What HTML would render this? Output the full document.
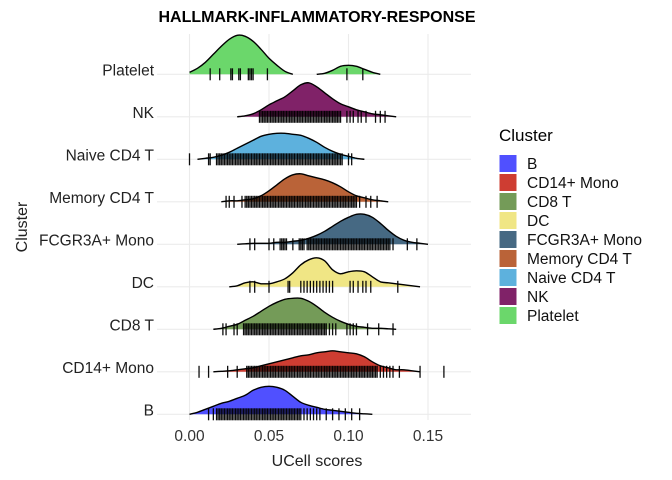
<!DOCTYPE html>
<html><head><meta charset="utf-8"><style>
body{margin:0;background:#fff}
svg{display:block;font-family:"Liberation Sans",Arial,sans-serif}
</style></head><body>
<svg id="chart" width="672" height="480" viewBox="0 0 672 480">
<text x="317" y="22" text-anchor="middle" font-size="16" font-weight="bold" fill="#000">HALLMARK-INFLAMMATORY-RESPONSE</text>
<g id="grid"></g><g id="ridges"></g><g id="axes"></g><g id="legend"></g>
<text x="317" y="466" text-anchor="middle" font-size="16" fill="#222">UCell scores</text>
<text transform="translate(27,227) rotate(-90)" text-anchor="middle" font-size="16" fill="#222">Cluster</text>
</svg>
<script>
const categories=["B","CD14+ Mono","CD8 T","DC","FCGR3A+ Mono","Memory CD4 T","Naive CD4 T","NK","Platelet"];
const colors=["#5050ff","#ce3d32","#749b58","#f0e685","#466983","#ba6338","#5db1dd","#802268","#6bd76b"];
const xTicks=[0,0.05,0.1,0.15];
const xTickLabels=["0.00","0.05","0.10","0.15"];
// density heights on grid 0.000..0.150 step 0.005 (31 pts)
const densB=[0,2,5,8,11,13,16,19,24,27,28,27,24,18,12,9,7,5,4,3,2,1,0.5,0,0,0,0,0,0,0,0];
const densCD14=[0,0,0,0,0.5,1,2,3,4,6,8,10,12,14,16,17,19,20,21,20,19,18,15,10,6,4,2,2,1,0,0];
const densCD8=[0,0,0,0,1,3,5,9,13,18,23,27,30,31,31,28,23,17,12,8,5,3,2,1,1,0.5,0,0,0,0,0];
const densDC=[0,0,0,0,0,0,1,4,5,3,3,5,8,14,22,27,29,26,17,13,15,16,15,10,5,4,3,2,1,0,0];
const densFCGR=[0,0,0,0,0,0,0,0.5,1,1,1,2,2,3,4,6,9,13,18,23,27,30,30,27,21,14,8,4,2,1,0];
const densMem=[0,0,0,0,0,1,1,2,3,6,11,17,23,27,28,26,24,22,19,15,10,6,4,2,1,0,0,0,0,0,0];
const densNaive=[0,0,1,2,4,7,11,15,19,23,25,26,26,25,24,21,17,12,8,5,3,1,0,0,0,0,0,0,0,0,0];
const densNK=[0,0,0,0,0,0,0,1,3,7,12,16,20,26,32,34,30,24,18,13,10,7,5,3,2,1,0,0,0,0,0];
const densPlatelet=[2,6,12,20,28,35,39,38,33,25,16,9,3,0,0,0,0,1,4,8,9,8,5,2,0,0,0,0,0,0,0];
const densities=[densB,densCD14,densCD8,densDC,densFCGR,densMem,densNaive,densNK,densPlatelet];
// rug values in thousandths
const rugB=[12,15,17,18,19,20,21,22,23,24,25,26,27,28,29,30,31,32,33,34,35,36,37,38,39,40,41,42,43,44,45,46,47,48,49,50,51,52,53,54,55,56,57,58,59,60,61,62,63,64,65,66,67,68,69,70,72,74,76,78,80,82,86,90,94,98,102,107];
const rugCD14=[6,12,24,30,36,37,38,39,40,41,42,43,44,45,46,47,48,49,50,51,52,53,54,55,56,57,58,59,60,61,62,63,64,65,66,67,68,69,70,71,72,73,74,75,76,77,78,79,80,81,82,83,84,85,86,87,88,89,90,91,92,93,94,95,96,97,98,99,100,101,102,103,104,105,106,107,108,109,110,111,112,113,114,115,116,117,118,120,122,124,126,128,132,145,160];
const rugCD8=[21,23,28,30,34,35,36,37,38,39,40,41,42,43,44,45,46,47,48,49,50,51,52,53,54,55,56,57,58,59,60,61,62,63,64,65,66,67,68,69,70,71,72,73,74,75,76,77,78,79,80,81,82,83,84,85,86,88,90,92,99,101,103,105,112,119,128];
const rugDC=[38,41,50,62,63,70,72,74,76,78,80,82,84,86,88,90,101,103,106,109,111,114,131];
const rugFCGR=[38,41,50,53,57,58,59,60,61,65,69,70,71,72,74,75,76,77,78,79,80,81,82,83,84,85,86,87,88,89,90,91,92,93,94,95,96,97,98,99,100,101,102,103,104,105,106,107,108,109,110,111,112,113,114,115,116,117,118,119,120,121,122,123,124,125,126,128,137,143];
const rugMem=[23,25,28,33,35,36,37,38,39,40,41,42,43,44,45,46,47,48,49,50,51,52,53,54,55,56,57,58,59,60,61,62,63,64,65,66,67,68,69,70,71,72,73,74,75,76,77,78,79,80,81,82,83,84,85,86,87,88,89,90,91,92,93,94,95,96,97,98,99,100,101,102,103,104,105,107,111,114,118];
const rugNaive=[0,12,13,17,18,19,20,21,22,23,24,25,26,27,28,29,30,31,32,33,34,35,36,37,38,39,40,41,42,43,44,45,46,47,48,49,50,51,52,53,54,55,56,57,58,59,60,61,62,63,64,65,66,67,68,69,70,71,72,73,74,75,76,77,78,79,80,81,82,83,84,85,86,87,88,89,90,91,92,93,94,95,96,100,102];
const rugNK=[44,45,46,47,48,49,50,51,52,53,54,55,56,57,58,59,60,61,62,63,64,65,66,67,68,69,70,71,72,73,74,75,76,77,78,79,80,81,82,83,84,85,86,87,88,89,90,91,92,93,94,95,99,101,103,106,108,111,117,120,123];
const rugPlatelet=[13,19,26,27,31,32,37,38,39,40,49,99,109];
const rugs=[rugB,rugCD14,rugCD8,rugDC,rugFCGR,rugMem,rugNaive,rugNK,rugPlatelet];

const NS="http://www.w3.org/2000/svg";
const X0=189.5,XS=1590,Y0=414.3,YS=42.5,L=157,R=471,TOP=34,BOT=420;
const xs=v=>X0+v*XS;
const yb=i=>Y0-i*YS;
function mk(t,a,p){const e=document.createElementNS(NS,t);for(const k in a)e.setAttribute(k,a[k]);p.appendChild(e);return e;}
const grid=document.getElementById('grid'),ridges=document.getElementById('ridges'),axes=document.getElementById('axes'),legend=document.getElementById('legend');
xTicks.forEach((t,i)=>{
  const g=mk('line',{x1:xs(t),x2:xs(t),y1:TOP,y2:BOT,stroke:'#ebebeb','stroke-width':1.1},grid);
  
  
  const tl=mk('text',{x:xs(t),y:441,'text-anchor':'middle','font-size':15.5,fill:'#333'},axes);
  tl.textContent=xTickLabels[i];
  
  
});
categories.forEach((c,i)=>{
  const g=mk('line',{x1:L,x2:R,y1:yb(i),y2:yb(i),stroke:'#ebebeb','stroke-width':1.1},grid);
  
  
  const tl=mk('text',{x:154,y:yb(i)+1,'text-anchor':'end','font-size':15.5,fill:'#222'},axes);
  tl.textContent=c;
  
  
});
function smoothPath(pts){
  let d=`M${pts[0][0]},${pts[0][1]}`;
  for(let i=0;i<pts.length-1;i++){
    const p0=pts[i-1]||pts[i],p1=pts[i],p2=pts[i+1],p3=pts[i+2]||p2;
    const c1=[p1[0]+(p2[0]-p0[0])/6,p1[1]+(p2[1]-p0[1])/6];
    const c2=[p2[0]-(p3[0]-p1[0])/6,p2[1]-(p3[1]-p1[1])/6];
    const base=Math.max(p1[1],p2[1]);
    d+=`C${c1[0]},${Math.min(c1[1],base)} ${c2[0]},${Math.min(c2[1],base)} ${p2[0]},${p2[1]}`;
  }
  return d;
}
for(let i=categories.length-1;i>=0;i--){
  const dens=densities[i],b=yb(i);
  const g=mk('g',{},ridges);
  
  
  let runs=[],cur=null;
  dens.forEach((v,k)=>{
    if(v>0){ if(!cur){cur=[Math.max(0,k-1)];} cur[1]=Math.min(dens.length-1,k+1);}
    else if(cur&&k>cur[1]){runs.push(cur);cur=null;}
  });
  if(cur)runs.push(cur);
  runs.forEach(r=>{
    const pts=[];
    for(let k=r[0];k<=r[1];k++)pts.push([xs(k*0.005),b-dens[k]]);
    const d=smoothPath(pts);
    const f=mk('path',{d:d+`L${pts[pts.length-1][0]},${b}L${pts[0][0]},${b}Z`,fill:colors[i],stroke:'none'},g);
    
    
    const o=mk('path',{d:d,fill:'none',stroke:'#000','stroke-width':1.4},g);
    
    
  });
  rugs[i].forEach(v=>{
    const x=xs(v/1000);
    const l=mk('line',{x1:x,x2:x,y1:b-6,y2:b+6,stroke:'#000','stroke-opacity':0.95,'stroke-width':1.3},g);
    
    
  });
}
const lt=mk('text',{x:499,y:141,'font-size':17,fill:'#000'},legend);
lt.textContent='Cluster';


categories.forEach((c,i)=>{
  const y=155+i*19;
  const g=mk('g',{},legend);
  
  
  mk('rect',{x:499.5,y:y,width:17,height:17,fill:colors[i]},g);
  const t=mk('text',{x:527,y:y+14,'font-size':15.5,fill:'#111'},g);
  t.textContent=c;
});
</script>
</body></html>
